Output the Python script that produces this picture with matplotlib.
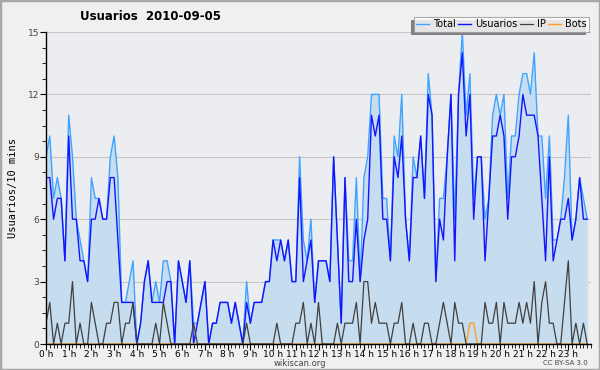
import matplotlib
matplotlib.use("Agg")
import matplotlib.pyplot as plt
import matplotlib.patches as mpatches
from matplotlib.ticker import MultipleLocator, FixedLocator
import numpy as np

# 10-minute slots over the day (144 slots)
usuarios = [8,8,6,7,7,4,10,6,6,4,4,3,6,6,7,6,6,8,8,
            5,2,2,2,2,0,1,3,4,2,2,2,2,3,3,0,4,3,2,4,
            0,1,2,3,0,1,1,2,2,2,1,2,1,0,2,1,2,2,
            2,3,3,5,4,5,4,5,3,3,8,3,4,5,2,4,4,4,3,
            9,5,1,8,3,3,6,3,5,6,11,10,11,6,6,4,
            9,8,10,6,4,8,8,10,7,12,11,3,6,5,9,12,4,
            12,14,10,12,6,9,9,4,7,10,10,11,10,6,9,9,10,
            12,11,11,11,10,7,4,9,4,5,6,6,7,5,6,8,6,6]
total = [9,10,7,8,7,4,11,9,6,5,4,3,8,7,7,6,6,9,10,
         8,2,2,3,4,0,1,3,4,2,3,2,4,4,3,0,4,3,2,4,
         1,1,2,3,0,1,1,2,2,2,1,2,1,0,3,1,2,2,
         2,3,3,5,5,5,4,5,3,3,9,5,4,6,2,4,4,4,3,
         9,5,1,8,4,4,8,3,8,9,12,12,12,7,7,4,
         10,9,12,6,4,9,8,10,7,13,11,3,7,7,9,12,6,
         12,15,11,13,7,9,9,6,7,11,12,11,12,7,10,10,12,
         13,13,12,14,10,10,7,10,5,5,6,8,11,5,6,8,7,6]
ip = [1,2,0,1,0,1,1,3,0,1,0,0,2,1,0,0,1,1,2,
      2,0,1,1,2,0,0,0,0,0,1,0,2,1,0,0,0,0,0,0,
      1,0,0,0,0,0,0,0,0,0,0,0,0,0,1,0,0,0,
      0,0,0,0,1,0,0,0,0,1,1,2,0,1,0,2,0,0,0,
      0,1,0,1,1,1,2,0,3,3,1,2,1,1,1,0,
      1,1,2,0,0,1,0,0,1,1,0,0,1,2,1,0,2,
      1,1,0,0,0,0,0,2,1,1,2,0,2,1,1,1,2,
      1,2,1,3,0,2,3,1,1,0,0,2,4,0,1,0,1,0]
bots = [0]*112 + [1, 1] + [0]*30

hour_labels = [f"{h} h" for h in range(24)]
yticks = [0, 3, 6, 9, 12, 15]

x = np.arange(len(total))

fig = plt.figure(figsize=(6, 3.7), dpi=100, facecolor="#f0f0f0")
ax = fig.add_axes([46/600, 1-344/370, 545/600, 312/370])
ax.set_facecolor("#ecedf0")

ax.fill_between(x, total, 0, color="#c6dcef", linewidth=0, zorder=1)
ax.plot(x, total, color="#3fa4ff", lw=1.0, zorder=3, label="Total")
ax.plot(x, usuarios, color="#1414ff", lw=1.0, zorder=4, label="Usuarios")
ax.plot(x, bots, color="#ffa020", lw=1.0, zorder=5, label="Bots")
ax.plot(x, ip, color="#404040", lw=0.9, zorder=5, label="IP")

ax.set_xlim(0, 144)
ax.set_ylim(0, 15)
ax.yaxis.set_major_locator(FixedLocator(yticks))
ax.yaxis.set_minor_locator(MultipleLocator(0.75))
ax.xaxis.set_major_locator(FixedLocator(np.arange(0, 144, 6)))
ax.xaxis.set_minor_locator(MultipleLocator(1))
ax.set_xticklabels(hour_labels)
ax.grid(axis="y", color="#c8c8c8", lw=0.8, zorder=0)
ax.set_axisbelow(True)
for s in ["top", "right"]:
    ax.spines[s].set_visible(False)
for s in ["left", "bottom"]:
    ax.spines[s].set_color("black")
    ax.spines[s].set_linewidth(1.0)
    ax.spines[s].set_zorder(6)
ax.tick_params(axis="x", which="major", length=4, width=0.8, labelsize=6.5, pad=0, colors="black")
ax.tick_params(axis="x", which="minor", length=3, width=0.6)
ax.tick_params(axis="y", which="major", length=4, width=0.8, labelsize=6.5, pad=1, labelcolor="#444444")
ax.tick_params(axis="y", which="minor", length=3, width=0.6)

ax.set_ylabel("Usuarios/10 mins", fontsize=7.5, family="DejaVu Sans Mono", labelpad=7)

fig.text(150/600, 1-17/370, "Usuarios  2010-09-05", ha="center", va="center",
         fontsize=8.5, fontweight="bold")

handles = [ax.lines[0], ax.lines[1], ax.lines[3], ax.lines[2]]
leg = fig.legend(handles, ["Total", "Usuarios", "IP", "Bots"], ncol=4,
                 loc="upper right", bbox_to_anchor=(589/600, 1-17/370),
                 fontsize=7, frameon=True, fancybox=False, shadow=False,
                 handlelength=1.3, handletextpad=0.4, columnspacing=0.3,
                 borderpad=0.25, borderaxespad=0)
leg.get_frame().set_edgecolor("#999999")
leg.get_frame().set_linewidth(0.8)
leg.get_frame().set_facecolor("white")
leg.set_zorder(10)

fig.canvas.draw()
bb = leg.get_window_extent()
shadow = mpatches.Rectangle(((bb.x0 - 3) / 600, (bb.y0 - 3) / 370), bb.width/600, bb.height/370,
                            transform=fig.transFigure, facecolor="#808080", edgecolor="none", zorder=9)
fig.patches.append(shadow)

fig.text(0.5, 1-363/370, "wikiscan.org", ha="center", va="center", fontsize=6, color="#444444")
fig.text(588/600, 1-363/370, "CC BY-SA 3.0", ha="right", va="center", fontsize=5, color="#444444")

border = mpatches.Rectangle((0, 0), 1, 1, transform=fig.transFigure, fill=False,
                            edgecolor="#a8a8a8", lw=2.5, zorder=20)
fig.patches.append(border)

fig.savefig("out.png", dpi=100, facecolor=fig.get_facecolor())
